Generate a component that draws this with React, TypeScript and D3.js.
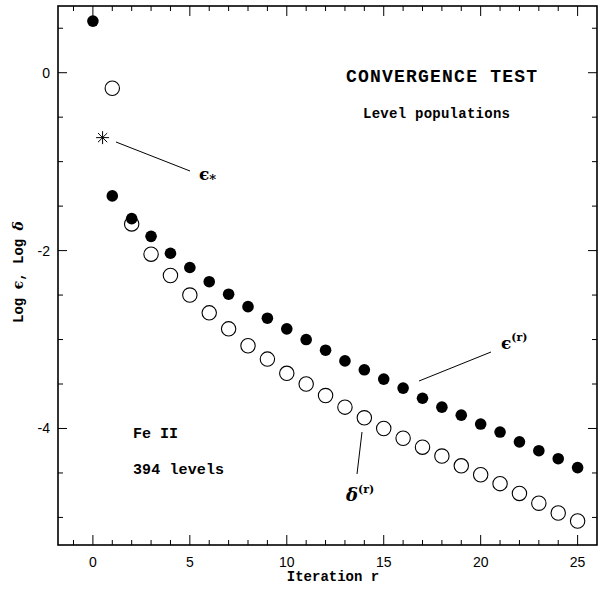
import React, { useEffect, useRef } from 'react';
import * as d3 from 'd3';

const iterations = d3.range(0, 26);
const epsilonValues = [
  0.58, -1.385, -1.64, -1.84, -2.03, -2.19, -2.35, -2.49, -2.63, -2.76,
  -2.88, -3.0, -3.12, -3.24, -3.34, -3.445, -3.546, -3.66, -3.76, -3.85,
  -3.95, -4.04, -4.15, -4.25, -4.34, -4.44,
];
const deltaIterations = d3.range(1, 26);
const deltaValues = [
  -0.175, -1.7, -2.04, -2.28, -2.5, -2.7, -2.88, -3.07, -3.22, -3.38,
  -3.5, -3.63, -3.76, -3.88, -4.0, -4.11, -4.21, -4.31, -4.42, -4.52,
  -4.62, -4.73, -4.84, -4.95, -5.04,
];
const epsilonStar = { x: 0.5, y: -0.73 };
const xTicks = [0, 5, 10, 15, 20, 25];
const yTicks = [0, -2, -4];

const mono = '"Liberation Mono", "Courier New", monospace';
const sans = '"Liberation Sans", Arial, sans-serif';
const serif = '"DejaVu Serif", "Liberation Serif", serif';

export default function App() {
  const svgRef = useRef<SVGSVGElement>(null);

  useEffect(() => {
    const svg = d3.select(svgRef.current);
    svg.selectAll('*').remove();

    const width = 602;
    const height = 592;
    const left = 58, right = 597, top = 6, bottom = 545;

    const x = d3.scaleLinear().domain([-1.8, 26]).range([left, right]);
    const y = d3.scaleLinear().domain([-5.31, 0.75]).range([bottom, top]);

    svg.attr('width', width).attr('height', height);
    svg.append('rect').attr('width', width).attr('height', height).attr('fill', 'white');

    // ticks, inward on all four sides
    const xMinor = d3.range(-1, 27).filter((v) => x(v) < right - 1);
    const yMinor = d3.range(-5, 1, 0.5);
    const g = svg.append('g').attr('stroke', 'black').attr('stroke-width', 1);
    xMinor.forEach((v) => {
      const len = v % 5 === 0 ? 10 : 5;
      g.append('line').attr('x1', x(v)).attr('x2', x(v)).attr('y1', bottom).attr('y2', bottom - len);
      g.append('line').attr('x1', x(v)).attr('x2', x(v)).attr('y1', top).attr('y2', top + len);
    });
    yMinor.forEach((v) => {
      const len = v % 2 === 0 ? 9 : 5;
      g.append('line').attr('y1', y(v)).attr('y2', y(v)).attr('x1', left).attr('x2', left + len);
      g.append('line').attr('y1', y(v)).attr('y2', y(v)).attr('x1', right).attr('x2', right - len);
    });

    svg.append('rect')
      .attr('x', left).attr('y', top)
      .attr('width', right - left).attr('height', bottom - top)
      .attr('fill', 'none').attr('stroke', 'black').attr('stroke-width', 1.6);

    // tick labels
    svg.append('g').selectAll('text').data(xTicks).join('text')
      .attr('x', (d) => x(d)).attr('y', 567)
      .attr('text-anchor', 'middle')
      .style('font-family', sans).style('font-size', '14px')
      .text((d) => d);
    svg.append('g').selectAll('text').data(yTicks).join('text')
      .attr('x', 50).attr('y', (d) => y(d) + 5)
      .attr('text-anchor', 'end')
      .style('font-family', sans).style('font-size', '14px')
      .text((d) => d);

    // axis titles
    svg.append('text')
      .attr('x', 333).attr('y', 581)
      .attr('text-anchor', 'middle')
      .style('font-family', mono).style('font-size', '14px').style('font-weight', 'bold')
      .text('Iteration r');
    const yl = svg.append('text')
      .attr('transform', 'translate(23,272) rotate(-90)')
      .attr('text-anchor', 'middle')
      .style('font-family', mono).style('font-size', '14px').style('font-weight', 'bold');
    yl.append('tspan').text('Log ');
    yl.append('tspan').style('font-family', serif).text('ϵ');
    yl.append('tspan').text(', Log ');
    yl.append('tspan').style('font-family', serif).style('font-style', 'italic').text('δ');

    // open circles: delta
    svg.append('g').selectAll('circle').data(deltaIterations).join('circle')
      .attr('cx', (d) => x(d)).attr('cy', (d, i) => y(deltaValues[i]))
      .attr('r', 7.2)
      .attr('fill', 'white').attr('stroke', 'black').attr('stroke-width', 1.1);

    // filled circles: epsilon
    svg.append('g').selectAll('circle').data(iterations).join('circle')
      .attr('cx', (d) => x(d)).attr('cy', (d, i) => y(epsilonValues[i]))
      .attr('r', 5.8)
      .attr('fill', 'black');

    // asterisk
    const sx = x(epsilonStar.x), sy = y(epsilonStar.y);
    const star = svg.append('g').attr('stroke', 'black').attr('stroke-width', 1);
    [0, 45, 90, 135].forEach((a) => {
      const r = 6.5, t = (a * Math.PI) / 180;
      star.append('line')
        .attr('x1', sx - r * Math.cos(t)).attr('y1', sy - r * Math.sin(t))
        .attr('x2', sx + r * Math.cos(t)).attr('y2', sy + r * Math.sin(t));
    });

    // annotation lines
    const ann = svg.append('g').attr('stroke', 'black').attr('stroke-width', 1);
    ann.append('line').attr('x1', 116).attr('y1', 142).attr('x2', 190).attr('y2', 171);
    ann.append('line').attr('x1', 419).attr('y1', 381).attr('x2', 491).attr('y2', 352);
    ann.append('line').attr('x1', 362).attr('y1', 432).attr('x2', 357).attr('y2', 474);

    // annotation labels
    const es = svg.append('text').attr('x', 199).attr('y', 180)
      .style('font-family', serif).style('font-size', '17px').style('font-weight', 'bold');
    es.append('tspan').text('ϵ');
    es.append('tspan').attr('dy', 4).style('font-size', '13px').text('*');

    const er = svg.append('text').attr('x', 501).attr('y', 349)
      .style('font-family', serif).style('font-size', '17px').style('font-weight', 'bold');
    er.append('tspan').text('ϵ');
    er.append('tspan').attr('dy', -8).style('font-size', '11px').text('(r)');

    const dr = svg.append('text').attr('x', 346).attr('y', 501)
      .style('font-family', serif).style('font-size', '18px').style('font-weight', 'bold');
    dr.append('tspan').style('font-style', 'italic').text('δ');
    dr.append('tspan').attr('dy', -8).style('font-size', '11px').text('(r)');

    // titles
    svg.append('text').attr('x', 346).attr('y', 82)
      .style('font-family', mono).style('font-size', '18px').style('font-weight', 'bold')
      .attr('textLength', 191)
      .text('CONVERGENCE TEST');
    svg.append('text').attr('x', 363).attr('y', 118)
      .style('font-family', mono).style('font-size', '14px').style('font-weight', 'bold')
      .attr('textLength', 147)
      .text('Level populations');
    svg.append('text').attr('x', 133).attr('y', 438)
      .style('font-family', mono).style('font-size', '15px').style('font-weight', 'bold')
      .text('Fe II');
    svg.append('text').attr('x', 133).attr('y', 474)
      .style('font-family', mono).style('font-size', '15px').style('font-weight', 'bold')
      .attr('textLength', 91)
      .text('394 levels');
  }, []);

  return (
    <svg ref={svgRef} style={{ position: 'absolute', left: 0, top: 0 }} />
  );
}
